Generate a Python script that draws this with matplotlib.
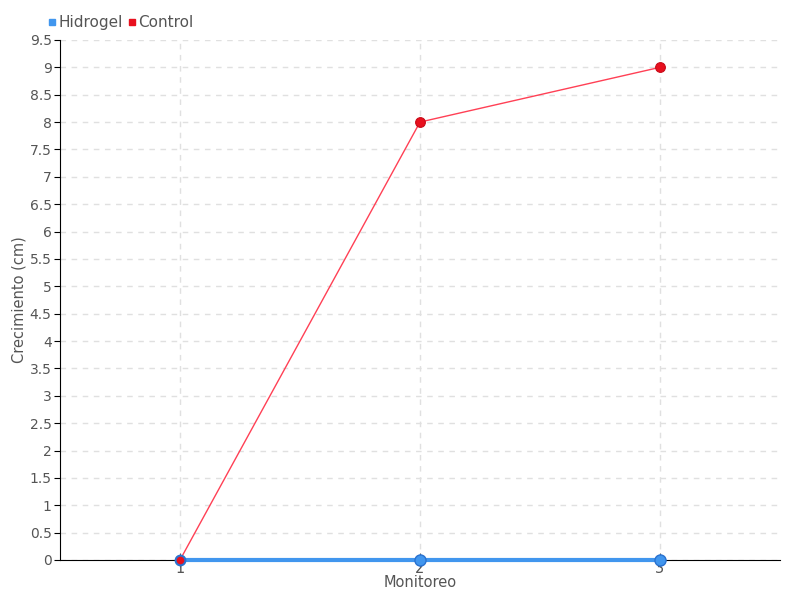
import matplotlib
matplotlib.use("Agg")
import matplotlib.pyplot as plt
from matplotlib.lines import Line2D

categories = ["1", "2", "3"]
hidrogel = [0, 0, 0]
control = [0, 8, 9]
yticks = [0, 0.5, 1, 1.5, 2, 2.5, 3, 3.5, 4, 4.5, 5, 5.5, 6, 6.5, 7, 7.5, 8, 8.5, 9, 9.5]

plt.rcParams['font.family'] = ['DejaVu Sans']

fig = plt.figure(figsize=(8, 6), dpi=100)
ax = fig.add_axes([0.075, 0.0667, 0.9, 0.8667])
x = list(range(1, len(categories) + 1))

ax.plot(x, control, color="#ff4055", lw=1, zorder=3)
ax.plot(x, control, 'o', color="#e8101e", ms=7, mec="#c80a18", mew=0.8, zorder=4)
ax.plot(x, hidrogel, color="#4196ee", lw=3, zorder=5, clip_on=False)
ax.plot(x[1:], hidrogel[1:], 'o', color="#4196ee", ms=8, mec="#2a72d0", mew=1, zorder=6, clip_on=False)
ax.plot(x[:1], hidrogel[:1], 'o', color="#e8101e", ms=7, mec="#2a72d0", mew=1.5, zorder=7, clip_on=False)

ax.set_xlim(0.5, 3.5)
ax.set_ylim(0, 9.5)
ax.set_xticks(x)
ax.set_xticklabels(categories)
ax.set_yticks(yticks)
ax.set_yticklabels([f"{v:g}" for v in yticks])
ax.grid(True, color="#e0e0e0", ls=(0, (4, 4)), lw=1)
ax.set_axisbelow(True)
for s in ["top", "right"]:
    ax.spines[s].set_visible(False)
ax.spines["left"].set_color("black")
ax.spines["bottom"].set_color("black")
ax.tick_params(axis="y", colors="#555555", labelsize=10, length=4, color="black", pad=2)
ax.tick_params(axis="x", colors="#555555", labelsize=10.5, length=10, direction="inout", color="#555555", pad=-4)
ax.set_xlabel("Monitoreo", color="#555555", fontsize=10.5, labelpad=-1)
ax.set_ylabel("Crecimiento (cm)", color="#555555", fontsize=10.5)
ax.yaxis.set_label_coords(-0.047, 0.5)

handles = [Line2D([], [], ls="", marker="s", color="#4196ee", ms=4),
           Line2D([], [], ls="", marker="s", color="#e8101e", ms=4)]
fig.legend(handles, ["Hidrogel", "Control"], loc="upper left", bbox_to_anchor=(0.043, 0.998),
           ncol=2, frameon=False, handlelength=0.5, handletextpad=0.15, columnspacing=0.4,
           fontsize=11, labelcolor="#555555")

fig.savefig("out.png", dpi=100)
